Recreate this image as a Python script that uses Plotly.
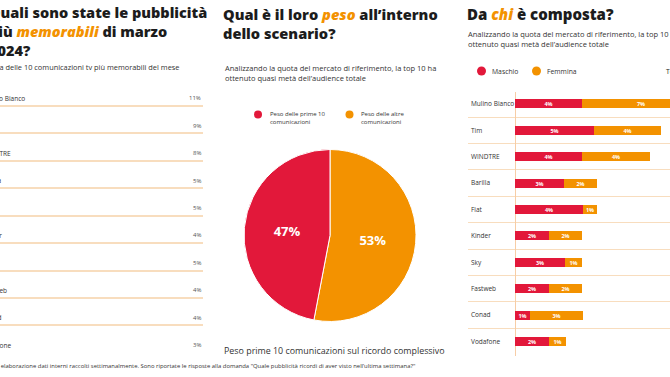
import plotly.graph_objects as go

W, H = 670, 377

# ---------------- data ----------------
rank_brands = ["Mulino Bianco", "Tim", "WINDTRE", "Barilla", "Fiat",
               "Kinder", "Sky", "Fastweb", "Conad", "Vodafone"]
rank_values = [11, 9, 8, 5, 5, 4, 5, 4, 4, 3]

pie_labels = ["Peso delle altre comunicazioni", "Peso delle prime 10 comunicazioni"]
pie_values = [53, 47]

gender_brands = rank_brands
male_values = [4.0, 4.7, 4.0, 2.9, 4.05, 2.0, 2.95, 2.0, 0.87, 2.0]
female_values = [7.0, 4.0, 4.05, 2.0, 0.83, 2.0, 1.04, 2.0, 3.15, 1.04]

# ---------------- style ----------------
RED = "#E2183A"
ORANGE = "#F39200"
DARK = "#1c1c1c"
TXT = "#333333"
LINE = "#F8DDBE"
FONT = "Open Sans"


def px(x):
    return x / W


def py(y):
    return 1 - y / H


fig = go.Figure()

# left panel: invisible trace to set up the category axis
fig.add_trace(go.Scatter(x=rank_values, y=rank_brands, mode="markers",
                         marker=dict(size=1, opacity=0), hoverinfo="skip",
                         showlegend=False, xaxis="x", yaxis="y"))

# middle: pie
fig.add_trace(go.Pie(values=pie_values, labels=pie_labels, sort=False,
                     direction="clockwise", rotation=0,
                     marker=dict(colors=[ORANGE, RED], line=dict(color="white", width=1)),
                     texttemplate="%{percent:.0%}", textposition="inside",
                     insidetextorientation="horizontal",
                     textfont=dict(color="white", size=13, family=FONT, weight=700),
                     domain=dict(x=[px(244), px(416)], y=[py(321.5), py(149.5)]),
                     showlegend=False, hoverinfo="label+percent"))

# right: stacked bars
for vals, col, name in ((male_values, RED, "Maschio"), (female_values, ORANGE, "Femmina")):
    fig.add_trace(go.Bar(y=gender_brands, x=vals, orientation="h", name=name,
                         marker=dict(color=col, line=dict(width=0)), width=0.34,
                         text=[f"{round(v)}%" for v in vals],
                         textposition="inside", insidetextanchor="middle", constraintext="none",
                         textfont=dict(color="white", size=5.5, family=FONT, weight=700),
                         xaxis="x3", yaxis="y3", showlegend=False))

ann = []


def add_text(x, y, text, size, color=TXT, anchor="left", weight=400, yanchor="middle"):
    ann.append(dict(x=px(x), y=py(y), xref="paper", yref="paper", text=text,
                    showarrow=False, xanchor=anchor, yanchor=yanchor, align="left",
                    font=dict(family=FONT, size=size, color=color, weight=weight)))


# left titles (cropped at the page edge, as in the reference)
add_text(-13, 32, "Quali sono state le pubblicità<br>"
         f"più <i><span style='color:{ORANGE}'>memorabili</span></i> di marzo<br>2024?",
         14.5, DARK, weight=800)
add_text(181, 67, "Classifica delle 10 comunicazioni tv più memorabili del mese", 7.4, TXT, anchor="right")

for b, v in zip(rank_brands, rank_values):
    ann.append(dict(x=px(-20), y=b, xref="paper", yref="y", text=b, showarrow=False,
                    xanchor="left", yanchor="middle", yshift=-6,
                    font=dict(family=FONT, size=6.5, color=TXT)))
    ann.append(dict(x=px(203), y=b, xref="paper", yref="y", text=f"{v}%", showarrow=False,
                    xanchor="right", yanchor="middle", yshift=-6,
                    font=dict(family=FONT, size=6, color="#555555")))

# middle titles
add_text(221, 23.5, f"Qual è il loro <i><span style='color:{ORANGE}'>peso</span></i> all’interno<br>"
         "dello scenario?", 14.6, DARK, weight=800)
add_text(223, 72.6, "Analizzando la quota del mercato di riferimento, la top 10 ha<br>"
         "ottenuto quasi metà dell’audience totale", 7.5, TXT)
add_text(268, 117.5, "Peso delle prime 10<br>comunicazioni", 6, TXT)
add_text(358.5, 117.5, "Peso delle altre<br>comunicazioni", 6, TXT)
add_text(334.5, 350, "Peso prime 10 comunicazioni sul ricordo complessivo", 8.9, TXT, anchor="center")

# right titles
add_text(465, 14.5, f"Da <i><span style='color:{ORANGE}'>chi</span></i> è composta?", 15, DARK, weight=800)
add_text(466, 38.5, "Analizzando la quota del mercato di riferimento, la top 10 ha<br>"
         "ottenuto quasi metà dell’audience totale", 7.5, TXT)
add_text(490, 71.5, "Maschio", 6.8, TXT)
add_text(545, 71.5, "Femmina", 6.8, TXT)
add_text(664, 71.5, "Totale", 6.8, DARK)

# footer
add_text(417, 366, "Fonte: elaborazione dati interni raccolti settimanalmente. Sono riportate le risposte alla domanda "
         "\"Quale pubblicità ricordi di aver visto nell’ultima settimana?\"", 5.9, TXT, anchor="right")

shapes = []


def circle(cx, cy, r, color):
    shapes.append(dict(type="circle", xref="paper", yref="paper",
                       x0=px(cx - r), x1=px(cx + r), y0=py(cy + r), y1=py(cy - r),
                       fillcolor=color, line=dict(width=0)))


circle(258, 114.5, 4, RED)
circle(349.5, 114.5, 4, ORANGE)
circle(481.5, 71, 4.5, RED)
circle(536.5, 71, 4.5, ORANGE)

n = len(rank_brands)
fig.update_layout(
    width=W, height=H, margin=dict(l=0, r=0, t=0, b=0),
    paper_bgcolor="white", plot_bgcolor="white",
    barmode="stack", bargap=0,
    annotations=ann, shapes=shapes,
    font=dict(family=FONT, color=TXT),
    xaxis=dict(domain=[0, px(203)], range=[0, 12], showgrid=False, zeroline=False,
               showticklabels=False, fixedrange=True),
    yaxis=dict(domain=[py(354.1), py(80.0)], type="category", categoryorder="array",
               categoryarray=rank_brands, range=[n - 0.45, -0.45], tickson="boundaries",
               showgrid=True, gridcolor=LINE, gridwidth=1.5, showticklabels=False,
               ticks="", zeroline=False, fixedrange=True),
    xaxis3=dict(domain=[px(468), 1], range=[-47 / 16.8, 155 / 16.8], showgrid=False,
                zeroline=True, zerolinecolor="#F7CDA6", zerolinewidth=1,
                showticklabels=False, anchor="y3", fixedrange=True),
    yaxis3=dict(domain=[py(356.1), py(92.1)], type="category", categoryorder="array",
                categoryarray=gender_brands, range=[n - 0.45, -0.45], tickson="boundaries",
                showgrid=True, gridcolor=LINE, gridwidth=1.2, ticks="",
                ticklabelposition="inside", tickfont=dict(size=6.5, color=TXT, family=FONT),
                anchor="x3", zeroline=False, fixedrange=True),
)

fig.write_html("out.html", config={"displayModeBar": False},
               post_script="document.body.style.margin='0px';document.body.style.overflow='hidden';")
